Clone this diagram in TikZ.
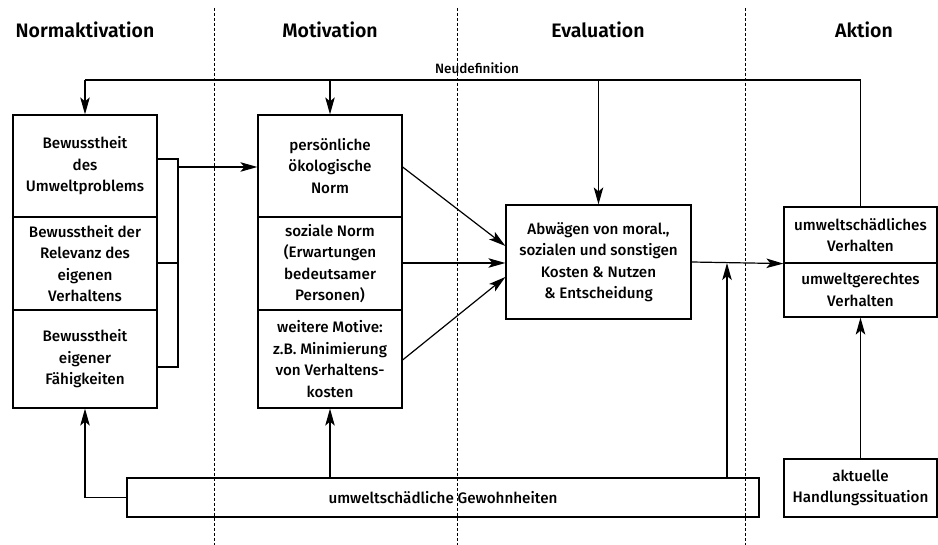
\documentclass[tikz,border=0pt]{standalone}
\usepackage{fontspec}
\setmainfont{Fira Sans Medium}
\newfontfamily\headfont{Fira Sans SemiBold}
\usetikzlibrary{arrows.meta}

\tikzset{
  bighead/.tip={Stealth[length=17pt,width=9.5pt,inset=4pt]},
  box/.style={draw, line width=1.2pt, inner sep=0pt, align=center,
              font=\fontsize{15.2}{21.5}\selectfont},
  ln/.style={line width=1.2pt},
  arr/.style={line width=1.2pt, arrows={-bighead}},
  phase/.style={line width=0.8pt, dash pattern=on 3pt off 2pt},
  head/.style={font=\headfont\fontsize{19.5}{22}\selectfont}
}

\begin{document}
\begin{tikzpicture}[x=1pt,y=-1pt]
\useasboundingbox (0,0) rectangle (938,545);

% phase separators
\foreach \px in {214,457,745}
  \draw[phase] (\px,8) -- (\px,545);

% phase headings
\node[head] (hN) at (85,30) {Normaktivation};
\node[head] (hM) at (330,30) {Motivation};
\node[head] (hE) at (598,30) {Evaluation};
\node[head] (hA) at (864,30) {Aktion};

% norm activation column
\node[box, minimum width=144pt, minimum height=102pt] (n1) at (85,166)
  {Bewusstheit\\des\\Umweltproblems};
\node[box, minimum width=144pt, minimum height=93pt] (n2) at (85,263.5)
  {Bewusstheit der\\Relevanz des\\eigenen\\Verhaltens};
\node[box, minimum width=144pt, minimum height=98pt] (n3) at (85,359)
  {Bewusstheit\\eigener\\Fähigkeiten};

% motivation column
\node[box, minimum width=144pt, minimum height=102pt] (m1) at (330,166)
  {persönliche\\ökologische\\Norm};
\node[box, minimum width=144pt, minimum height=93pt] (m2) at (330,263.5)
  {soziale Norm\\(Erwartungen\\bedeutsamer\\Personen)};
\node[box, minimum width=144pt, minimum height=98pt] (m3) at (330,359)
  {weitere Motive:\\z.B. Minimierung\\von Verhaltens-\\kosten};

% evaluation
\node[box, minimum width=185pt, minimum height=114pt] (e) at (598.5,262)
  {Abwägen von moral.,\\sozialen und sonstigen\\Kosten \& Nutzen\\\& Entscheidung};

% action
\node[box, minimum width=153pt, minimum height=56pt] (a1) at (860.5,235)
  {umweltschädliches\\Verhalten};
\node[box, minimum width=153pt, minimum height=54pt] (a2) at (860.5,290)
  {umweltgerechtes\\Verhalten};

% bottom row
\node[box, minimum width=632pt, minimum height=39pt] (h) at (443,497.5)
  {umweltschädliche Gewohnheiten};
\node[box, minimum width=153pt, minimum height=58pt] (s) at (860.5,488)
  {aktuelle\\Handlungssituation};

% feedback loop "Neudefinition"
\coordinate (fbL) at (85,80);
\node[font=\fontsize{13.5}{16}\selectfont] (nd) at (477,68) {Neudefinition};
\draw[ln] (a1.north) |- (fbL);
\draw[arr] (fbL) -- (n1.north);
\draw[arr] (m1.north |- fbL) -- (m1.north);
\draw[arr] (e.north |- fbL) -- (e.north);

% bracket joining the three activation boxes
\coordinate (br) at (178,167);
\draw[ln] (n1.east |- 0,159) -- (178,159) -- (178,367) -- (n3.east |- 0,367);
\draw[ln] (n2.east |- 0,263) -- (178,263);
\draw[arr] (br) -- (m1.west |- br);

% motives into evaluation
\draw[arr] (m1.east |- 0,167) -- (e.west |- 0,246);
\draw[arr] (m2.east |- 0,263) -- (e.west |- 0,263);
\draw[arr] (m3.east |- 0,360) -- (e.west |- 0,277);

% evaluation into action
\draw[arr] (e.east) -- (a1.south west);

% habits
\coordinate (hx) at (727,263);
\draw[arr] (h.north -| hx) -- (hx);
\draw[arr] (h.west) -| (n3.south);
\draw[arr] (h.north -| m3.south) -- (m3.south);

% situation
\draw[arr] (s.north) -- (a2.south);
\end{tikzpicture}
\end{document}
